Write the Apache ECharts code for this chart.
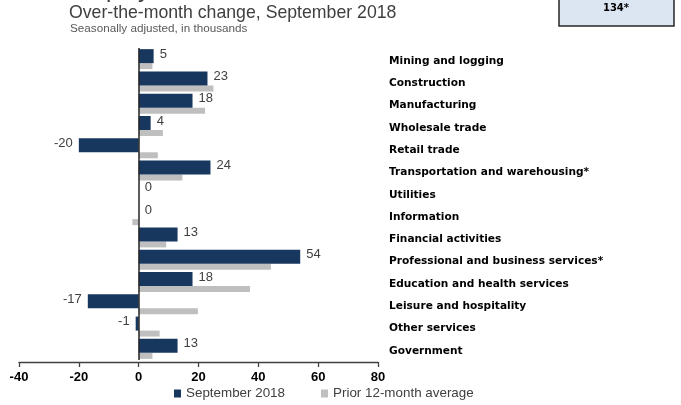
<!DOCTYPE html>
<html>
<head>
<meta charset="utf-8">
<script src="https://cdn.jsdelivr.net/npm/echarts@6/dist/echarts.min.js"></script>
<style>
html,body{margin:0;padding:0;background:#fff;}
#chart{width:681px;height:405px;}
</style>
</head>
<body>
<div id="chart"></div>
<script>
var categories = [
  "Mining and logging",
  "Construction",
  "Manufacturing",
  "Wholesale trade",
  "Retail trade",
  "Transportation and warehousing*",
  "Utilities",
  "Information",
  "Financial activities",
  "Professional and business services*",
  "Education and health services",
  "Leisure and hospitality",
  "Other services",
  "Government"
];
var september2018 = [5, 23, 18, 4, -20, 24, 0, 0, 13, 54, 18, -17, -1, 13];
var prior12MonthAvg = [4.6, 25, 22.2, 8.1, 6.4, 14.6, 0, -2.1, 9.2, 44.2, 37.2, 19.8, 7, 4.6];
var xTicks = [-40, -20, 0, 20, 40, 60, 80];
var seriesNames = ["September 2018", "Prior 12-month average"];

var chart = echarts.init(document.getElementById('chart'), null, {renderer: 'canvas'});

var navyData = september2018.map(function (v) {
  return {value: v, label: {position: v < 0 ? 'left' : 'right'}};
});

var option = {
  animation: false,
  backgroundColor: '#ffffff',
  grid: {left: 19, right: 303, top: 48, bottom: 45, containLabel: false},
  legend: {
    data: seriesNames,
    left: 169, top: 382,
    itemWidth: 7, itemHeight: 8, itemGap: 36,
    icon: 'rect',
    textStyle: {fontFamily: 'Liberation Sans', fontSize: 13.4, color: '#404040'}
  },
  xAxis: {
    type: 'value',
    min: xTicks[0], max: xTicks[xTicks.length - 1], interval: 20,
    offset: 2,
    axisLine: {show: true, lineStyle: {color: '#404040', width: 1.3}},
    axisTick: {show: true, inside: false, length: 5, lineStyle: {color: '#404040', width: 1.3}},
    axisLabel: {margin: 9, fontFamily: 'Liberation Sans', fontWeight: 'bold', fontSize: 13, color: '#000'},
    splitLine: {show: false}
  },
  yAxis: {
    type: 'category',
    data: categories,
    inverse: true,
    position: 'right',
    axisLine: {show: false},
    axisTick: {show: false},
    axisLabel: {margin: 11, align: 'left', verticalAlign: 'top', lineHeight: 4, fontFamily: 'DejaVu Sans', fontWeight: 'bold', fontSize: 10.6, color: '#000'}
  },
  series: [
    {
      name: seriesNames[0],
      type: 'bar',
      data: navyData,
      barWidth: 14,
      barGap: '0%',
      itemStyle: {color: '#17375e'},
      label: {show: true, distance: 6, offset: [0, -2], fontFamily: 'Liberation Sans', fontSize: 13, color: '#404040'},
      markLine: {
        silent: true,
        symbol: 'none',
        label: {show: false},
        lineStyle: {color: '#262626', width: 1.5, type: 'solid'},
        data: [{xAxis: 0}]
      },
      z: 3
    },
    {
      name: seriesNames[1],
      type: 'bar',
      data: prior12MonthAvg,
      barWidth: 6,
      barGap: '0%',
      itemStyle: {color: '#bfbfbf'},
      z: 2
    }
  ],
  graphic: [
    {
      type: 'text', left: 70, top: -22,
      style: {text: 'Employment', font: '24px "Liberation Sans"', fill: '#404040'}
    },
    {
      type: 'text', left: 69, top: 4,
      style: {text: 'Over-the-month change, September 2018', font: '17.7px "Liberation Sans"', fill: '#404040'}
    },
    {
      type: 'text', left: 70, top: 23,
      style: {text: 'Seasonally adjusted, in thousands', font: '11.7px "Liberation Sans"', fill: '#595959'}
    },
    {
      type: 'rect', shape: {x: 559, y: -5, width: 115, height: 31},
      style: {fill: '#dce6f2', stroke: '#262626', lineWidth: 1.5}
    },
    {
      type: 'text', x: 616, y: 8,
      style: {text: '134*', font: 'bold 10px "DejaVu Sans"', fill: '#000', textAlign: 'center', textVerticalAlign: 'middle'}
    }
  ]
};
chart.setOption(option);
</script>
</body>
</html>
